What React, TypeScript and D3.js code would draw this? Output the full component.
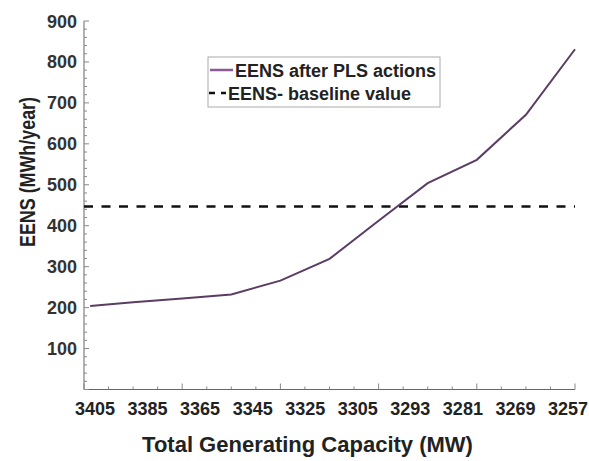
import React from "react";
import * as d3 from "d3";

// ---- data ----
const capacityLabels = ["3405", "3385", "3365", "3345", "3325", "3305", "3293", "3281", "3269", "3257"];
const xSteps = [0.25, 2, 4, 6, 8, 10, 12, 14, 16, 18, 20];
const eensAfterPLS = [204, 213, 222, 232, 266, 319, 412, 504, 561, 671, 831];
const baselineEENS = 447;
const yTicks = [100, 200, 300, 400, 500, 600, 700, 800, 900];
const legendLabels = ["EENS after PLS actions", "EENS- baseline value"];

const W = 589;
const H = 461;
const FONT = "'Liberation Sans', Arial, sans-serif";

export default function App() {
  const x = d3.scaleLinear().domain([0, 20]).range([84, 575]);
  const y = d3.scaleLinear().domain([0, 900]).range([389.5, 21]);
  const xLab = d3.scalePoint<string>().domain(capacityLabels).range([95, 568]);

  const line = d3
    .line<number>()
    .x((_, i) => x(xSteps[i]))
    .y((d) => y(d));

  const minorX = d3.range(0, 21);
  const minorY = d3.range(0, 901, 20);
  const purple = "#5a3d62";

  return (
    <svg
      width={W}
      height={H}
      style={{ position: "absolute", left: 0, top: 0, background: "#fff" }}
      fontFamily={FONT}
    >
      <rect x={0} y={0} width={W} height={H} fill="#fff" />
      {/* axes */}
      <line x1={84} x2={84} y1={y(900)} y2={y(0)} stroke="#666" strokeWidth={1} />
      <line x1={84} x2={575} y1={y(0)} y2={y(0)} stroke="#666" strokeWidth={1} />
      {minorY.map((v) => (
        <line
          key={"my" + v}
          x1={84}
          x2={84 + (v % 100 === 0 ? 5 : 3)}
          y1={y(v)}
          y2={y(v)}
          stroke="#888"
          strokeWidth={1}
        />
      ))}
      {minorX.map((u) => (
        <line
          key={"mx" + u}
          x1={x(u)}
          x2={x(u)}
          y1={y(0)}
          y2={y(0) - (u % 4 === 0 ? 6 : 3)}
          stroke="#888"
          strokeWidth={1}
        />
      ))}
      {yTicks.map((v) => (
        <text
          key={"yt" + v}
          x={77}
          y={y(v) + 6.5}
          textAnchor="end"
          fontSize={18}
          fontWeight="bold"
          fill="#333"
        >
          {v}
        </text>
      ))}
      {capacityLabels.map((c) => (
        <text
          key={"xt" + c}
          x={xLab(c)}
          y={415}
          textAnchor="middle"
          fontSize={18}
          fontWeight="bold"
          fill="#222"
        >
          {c}
        </text>
      ))}
      {/* axis titles */}
      <text
        x={307.5}
        y={452}
        textAnchor="middle"
        fontSize={22}
        fontWeight="bold"
        fill="#222"
      >
        Total Generating Capacity (MW)
      </text>
      <text
        transform="translate(35,172) rotate(-90)"
        textAnchor="middle"
        fontSize={22}
        fontWeight="bold"
        fill="#222"
        textLength={150}
        lengthAdjust="spacingAndGlyphs"
      >
        EENS (MWh/year)
      </text>
      {/* baseline */}
      <line
        x1={x(0)}
        x2={x(20)}
        y1={y(baselineEENS)}
        y2={y(baselineEENS)}
        stroke="#111"
        strokeWidth={2.5}
        strokeDasharray="9,8.5"
      />
      {/* EENS line */}
      <path d={line(eensAfterPLS) || ""} fill="none" stroke={purple} strokeWidth={2} />
      {/* legend */}
      <rect x={208} y={57} width={232} height={50} fill="#fff" stroke="#aaa" strokeWidth={1} />
      <line x1={210} x2={233} y1={70} y2={70} stroke="#8a5a96" strokeWidth={2.5} />
      <text x={235} y={77} fontSize={18} fontWeight="bold" fill="#222">
        {legendLabels[0]}
      </text>
      <line
        x1={209}
        x2={226}
        y1={93}
        y2={93}
        stroke="#111"
        strokeWidth={2.5}
        strokeDasharray="6,6"
      />
      <text x={228} y={100} fontSize={18} fontWeight="bold" fill="#222">
        {legendLabels[1]}
      </text>
    </svg>
  );
}
